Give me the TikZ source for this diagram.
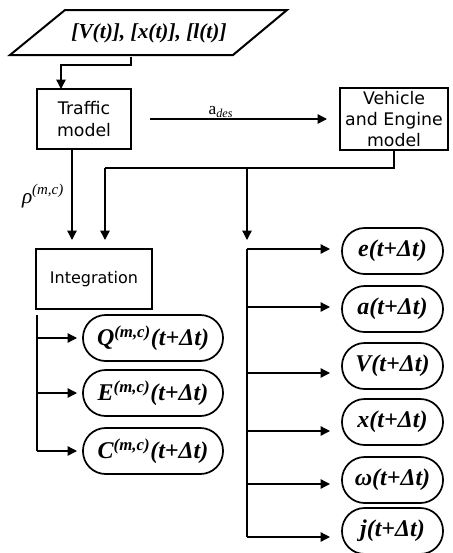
\documentclass[tikz,border=0pt]{standalone}
\usepackage{fontspec}
\setmainfont{DejaVu Sans}
\newfontfamily\bif{Liberation Serif}
\usetikzlibrary{arrows.meta,calc}
\tikzset{
  ln/.style={line width=1pt},
  arr/.style={ln,-{Triangle[length=7pt,width=7pt]}},
  box/.style={draw,line width=1.5pt,align=center,inner sep=0pt,outer sep=0pt,
    font=\fontsize{13}{16}\selectfont},
  pill/.style={draw,line width=1.3pt,rounded corners=17pt,inner sep=0pt,outer sep=0pt,
    minimum height=34.5pt,font=\bif\bfseries\itshape\fontsize{18}{20}\selectfont},
  lpill/.style={pill,minimum width=105pt},
  rpill/.style={pill,minimum width=75.75pt},
}
\begin{document}
\begin{tikzpicture}[x=0.75pt,y=-0.75pt]
\useasboundingbox (0,0) rectangle (453,553);
% input parallelogram
\draw[line width=1.5pt] (65,10) -- (287,10) -- (233,55) -- (10,55) -- cycle;
\node[font=\bif\bfseries\itshape\fontsize{16}{18}\selectfont] (inp) at (149,33) {[V(t)], [x(t)], [l(t)]};
% boxes
\node[box,minimum width=70.5pt,minimum height=45pt] (traffic) at (84,119) {Traffic\\model};
\node[box,minimum width=81pt,minimum height=46.5pt] (veh) at (394,119) {Vehicle\\and Engine\\model};
\node[box,font=\fontsize{12}{14}\selectfont,minimum width=87pt,minimum height=45pt] (integ) at (94,279) {Integration};
% left outputs
\node[lpill] (Q) at (153,338) {Q\textsuperscript{(m,c)}(t+Δt)};
\node[lpill] (E) at (153,393) {E\textsuperscript{(m,c)}(t+Δt)};
\node[lpill] (C) at (153,451) {C\textsuperscript{(m,c)}(t+Δt)};
% right outputs
\node[rpill] (oe) at (392.5,251) {e(t+Δt)};
\node[rpill] (oa) at (392.5,309) {a(t+Δt)};
\node[rpill] (oV) at (392.5,366) {V(t+Δt)};
\node[rpill] (ox) at (392.5,422) {x(t+Δt)};
\node[rpill] (ow) at (392.5,480) {ω(t+Δt)};
\node[rpill] (oj) at (392.5,531) {j(t+Δt)};
% input -> traffic
\coordinate (pb) at (131,57);
\coordinate (k1) at (61,65);
\draw[arr] (pb) |- (k1) -- (k1 |- traffic.north);
% traffic -> vehicle
\draw[arr,shorten <=14.25pt,shorten >=9.75pt] (traffic.east) -- node[pos=0.43,above=-3pt,font=\bif\fontsize{13}{14}\selectfont]{a\textsubscript{\itshape des}} (veh.west);
% traffic -> integration
\coordinate (tx) at ($(traffic.south)+(-12,0)$);
\draw[arr,shorten >=6.75pt] (tx) -- (tx |- integ.north);
\node[font=\bif\itshape\fontsize{16}{18}\selectfont] (rho) at (43,196) {ρ\textsuperscript{(m,c)}};
% vehicle bus
\coordinate (bL) at (105,168);
\coordinate (bM) at (247,168);
\coordinate (rt) at (247,249);
\draw[ln] (veh.south) |- (bL);
\draw[arr,shorten >=6.75pt] (bL) -- (bL |- integ.north);
\draw[arr,shorten >=6.75pt] (bM) -- (rt);
% left trunk
\coordinate (lt) at (37,315);
\draw[ln] (lt) -- (lt |- C.west);
\foreach \n in {Q,E,C} \draw[arr,shorten >=4.5pt] (lt |- \n.west) -- (\n.west);
% right trunk
\coordinate (rb) at (247,537);
\draw[ln] (rt) -- (rb);
\foreach \n/\y in {oe/249,oa/307,oV/373,ox/431,ow/484,oj/537}
  \draw[arr,shorten >=9pt] (247,\y) -- (\n.west |- 0,\y);
\end{tikzpicture}
\end{document}
